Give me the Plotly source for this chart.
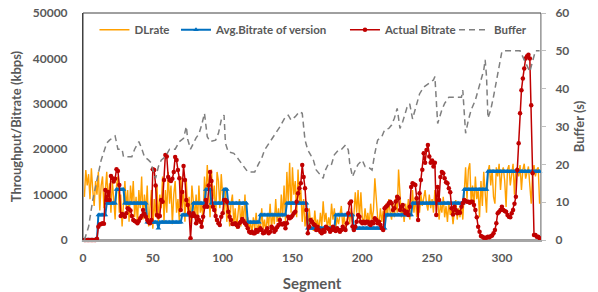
import plotly.graph_objects as go

segments = list(range(1, 328))

# DLrate (Mbps)
dlrate_mbps = [
    9.5, 15.4, 12, 14.5, 9, 15.8, 11, 7.5, 13, 10,
    15, 6.5, 12, 14, 7, 11, 15, 8, 12.5, 6,
    13, 9, 4.5, 12, 14, 6, 10, 3, 9, 13,
    7, 11, 4, 12, 8, 13, 5, 9.5, 3.5, 11,
    7, 14, 4.5, 10, 6, 12, 3, 8, 11, 2.5,
    9, 5, 12, 3.5, 10, 7, 14, 4, 11, 6,
    15, 8, 12, 3.5, 10, 13, 6, 9, 4, 14,
    7, 11, 4, 13, 6, 9.5, 3.5, 12, 8, 5,
    10, 3.5, 12, 6, 8, 4, 14, 9, 16.5, 11,
    5, 15.5, 9, 12, 4, 15, 13, 7, 14.5, 10,
    6, 11, 4, 9, 3, 8, 10, 3.5, 7, 2.5,
    6, 9, 3, 7.5, 4, 10, 2.5, 5, 2, 4,
    1.5, 5, 2.5, 6, 1.5, 3.5, 2, 7, 2.5, 4.5,
    1.5, 5.5, 3, 8, 2.5, 6, 3.5, 9, 4, 7,
    3, 10, 5, 12, 4, 15, 8, 17, 6, 16,
    10, 13, 5, 15.5, 8, 11, 4, 9, 3, 6,
    2, 7, 3.5, 5, 2, 6.5, 3, 4.5, 2, 6,
    3, 8.5, 4, 6, 2.5, 5, 3, 8, 4.5, 7,
    2.5, 5, 3.5, 6, 7.5, 3, 5.5, 2.5, 4, 6,
    3.5, 7, 4, 5.5, 10.5, 6, 11, 4.5, 10.5, 5,
    3.5, 7, 4, 6, 3, 8, 4.5, 6.5, 13.6, 8,
    5, 3.5, 7, 4, 6.5, 3, 8, 5, 9, 6,
    4.5, 8, 5, 9.5, 6, 15.5, 9, 5, 7, 4,
    8, 5.5, 9, 4.5, 7, 11, 6, 9.5, 5, 8.5,
    6, 10, 7.5, 9, 11, 8, 6.5, 10, 7, 9,
    6, 11, 7.5, 9, 4.5, 8, 6, 9.5, 5, 7.5,
    4, 8.5, 5.5, 7, 3.5, 6.5, 8.8, 4.5, 7, 5,
    8, 4.5, 10, 16, 9, 15.5, 16.9, 8, 12, 7,
    14, 9, 11, 5, 13, 7.5, 15, 10, 6, 15,
    16.5, 12, 15.5, 9.5, 8, 16, 14, 16.8, 11, 15,
    16, 13, 7.3, 15.5, 16.5, 12, 15, 16.8, 10, 15.5,
    16, 14, 16.5, 11, 15.5, 16.8, 13.5, 15, 16.2, 12,
    8, 15, 16.5, 14, 15.5, 16, 8,
]

# Avg. bitrate of the chosen version (kbps)
avg_bitrate_kbps = [
    0, 0, 0, 0, 0, 0, 0, 0, 0, 0,
    5500, 5500, 5500, 5500, 5500, 5500,
    8100, 8100, 8100, 8100, 8100, 8100, 8100,
    11100, 11100, 11100, 11100, 11100, 11100,
    8100, 8100, 8100, 8100, 8100, 8100, 8100, 8100, 8100, 8100, 8100, 8100, 8100, 8100, 8100, 8100,
    3900, 3900, 3900, 3900, 3900, 3900, 3900, 3900,
    2600,
    3900, 3900, 3900, 3900, 3900, 3900, 3900, 3900, 3900, 3900, 3900, 3900, 3900, 3900, 3900, 3900,
    5500, 5500, 5500, 5500, 5500, 5500, 5500, 5500,
    8100, 8100, 8100, 8100, 8100, 8100, 8100, 8100, 8100,
    11100, 11100, 11100, 11100,
    8100, 8100, 8100, 8100, 8100, 8100, 8100, 8100, 8100,
    11100, 11100, 11100,
    8100, 8100, 8100, 8100, 8100, 8100, 8100, 8100, 8100, 8100, 8100, 8100, 8100, 8100,
    3900, 3900, 3900, 3900, 3900, 3900, 3900, 3900, 3900,
    5500, 5500, 5500, 5500, 5500, 5500, 5500, 5500, 5500, 5500, 5500, 5500, 5500, 5500, 5500, 5500, 5500, 5500, 5500,
    8100, 8100, 8100, 8100, 8100, 8100, 8100, 8100, 8100, 8100, 8100, 8100, 8100, 8100, 8100,
    2600, 2600, 2600, 2600, 2600, 2600, 2600, 2600, 2600, 2600, 2600, 2600, 2600, 2600, 2600, 2600, 2600, 2600, 2600, 2600,
    5500, 5500, 5500, 5500, 5500, 5500, 5500, 5500, 5500, 5500, 5500, 5500, 5500,
    2600, 2600, 2600, 2600, 2600, 2600, 2600, 2600, 2600, 2600, 2600, 2600, 2600, 2600, 2600, 2600, 2600, 2600, 2600, 2600, 2600, 2600, 2600,
    5500, 5500, 5500, 5500, 5500, 5500, 5500, 5500, 5500, 5500, 5500, 5500, 5500, 5500, 5500, 5500, 5500, 5500, 5500,
    8100, 8100, 8100, 8100, 8100, 8100, 8100, 8100, 8100, 8100, 8100, 8100, 8100, 8100, 8100, 8100, 8100, 8100, 8100, 8100,
    8100, 8100, 8100, 8100, 8100, 8100, 8100, 8100, 8100, 8100, 8100, 8100, 8100, 8100, 8100, 8100, 8100,
    11100, 11100, 11100, 11100, 11100, 11100, 11100, 11100, 11100, 11100, 11100, 11100, 11100, 11100, 11100, 11100, 11100,
    15100, 15100, 15100, 15100, 15100, 15100, 15100, 15100, 15100, 15100, 15100, 15100, 15100, 15100, 15100, 15100, 15100, 15100, 15100,
    15100, 15100, 15100, 15100, 15100, 15100, 15100, 15100, 15100, 15100, 15100, 15100, 15100, 15100, 15100, 15100, 15100, 15100, 15100,
]

# Actual bitrate (Mbps)
actual_mbps = [
    0, 0, 0, 0, 0, 0, 0, 0, 0, 0.3,
    2.9, 3.4, 3.5, 3.7, 3.6, 11.0, 8.8, 10.6, 8.8, 14.1,
    13.6, 12.9, 13.5, 15.6, 15.2, 12.1, 5.3, 5.7, 5.5, 5.1,
    5.9, 7.0, 6.8, 6.5, 5.3, 4.4, 4.2, 4.0, 3.7, 4.2,
    4.8, 5.3, 6.6, 5.7, 5.1, 4.4, 3.9, 3.7, 4.4, 15.6,
    15.4, 12.0, 5.5, 5.1, 5.3, 8.8, 8.4, 13.2, 18.7, 18.4,
    13.9, 13.2, 13.0, 13.5, 15.0, 18.3, 17.6, 15.4, 13.6, 6.6,
    10.6, 16.3, 13.2, 8.8, 7.7, 6.0, 0.4, 5.3, 5.9, 5.3,
    3.7, 5.1, 4.4, 4.0, 2.9, 5.1, 7.3, 8.8, 7.3, 12.0,
    15.0, 13.0, 7.3, 6.6, 5.3, 4.4, 3.7, 3.3, 5.1, 5.9,
    8.8, 8.8, 8.4, 6.2, 5.1, 4.4, 3.5, 3.5, 3.7, 3.3,
    2.9, 3.7, 4.0, 4.6, 4.2, 3.7, 3.3, 2.6, 1.8, 1.6,
    1.8, 1.5, 1.5, 2.2, 1.8, 2.2, 2.6, 2.2, 1.5, 1.6,
    2.0, 2.6, 1.5, 1.8, 2.9, 2.6, 1.8, 2.2, 2.8, 3.3,
    4.4, 3.5, 3.4, 3.7, 2.6, 3.7, 5.1, 4.8, 5.0, 5.4,
    5.9, 6.2, 8.4, 10.3, 11.4, 12.5, 16.5, 13.9, 11.4, 6.6,
    1.5, 2.9, 4.4, 4.0, 3.5, 3.3, 2.2, 2.9, 2.2, 1.8,
    1.5, 2.2, 1.8, 2.9, 2.6, 2.4, 1.8, 2.2, 2.9, 2.2,
    2.0, 2.6, 2.2, 1.8, 2.2, 2.9, 2.4, 2.2, 3.7, 5.9,
    8.1, 8.5, 3.0, 2.2, 2.9, 4.0, 5.5, 5.1, 4.0, 3.7,
    4.0, 3.7, 4.0, 4.0, 3.5, 3.3, 4.0, 3.7, 4.8, 4.4,
    3.7, 4.0, 3.3, 2.6, 2.2, 7.0, 7.3, 7.6, 8.1, 8.4,
    8.1, 6.6, 7.0, 8.5, 9.5, 9.2, 6.6, 7.3, 7.7, 6.5,
    5.9, 6.2, 5.5, 7.3, 11.7, 12.5, 12.3, 12.1, 9.2, 4.4,
    10.3, 13.2, 15.5, 19.1, 17.0, 19.8, 20.9, 18.4, 17.0, 17.5,
    16.2, 17.0, 5.5, 11.7, 8.8, 13.9, 15.0, 14.7, 13.6, 12.7,
    12.5, 11.4, 10.5, 7.0, 5.6, 7.3, 6.6, 5.9, 6.2, 6.0,
    7.3, 8.1, 8.8, 8.6, 8.4, 8.4, 8.2, 8.4, 8.4, 7.7,
    6.6, 5.0, 2.9, 1.8, 0.9, 0.7, 0.5, 0.5, 0.5, 0.7,
    0.6, 0.8, 1.0, 1.5, 2.2, 3.7, 5.9, 6.2, 6.6, 7.3,
    6.6, 6.4, 6.2, 5.5, 5.1, 5.0, 5.9, 6.6, 8.0, 9.5,
    15.4, 21.3, 27.9, 33.0, 35.6, 37.8, 40.0, 40.5, 40.8, 40.0,
    29.7, 14.7, 1.1, 1.1, 0.7, 0.7, 0.4,
]

# Buffer level (s), read at the turning points of the dashed line
buffer_seg = [1, 4, 7, 11, 13, 17, 19, 23, 25, 28, 29, 31, 35, 37, 40, 42, 44, 47, 49, 50,
              52, 54, 56, 59, 62, 66, 69, 72, 74, 75, 77, 79, 81, 83, 85, 87, 89, 91, 95, 97,
              99, 101, 102, 104, 108, 110, 112, 116, 118, 123, 126, 128, 130, 134, 137, 141, 145, 147, 149, 152,
              155, 157, 159, 161, 163, 165, 167, 170, 172, 173, 176, 178, 180, 183, 185, 188, 190, 191, 193, 195,
              197, 200, 202, 204, 207, 209, 211, 214, 216, 219, 221, 223, 225, 227, 229, 232, 234, 236, 239, 241,
              244, 246, 248, 251, 252, 253, 254, 257, 259, 262, 266, 271, 272, 273, 274, 276, 278, 281, 283, 285,
              287, 288, 289, 290, 292, 294, 296, 298, 300, 302, 311, 313, 316, 320, 324, 327]
buffer_s = [0, 3.5, 10.6, 17.6, 21.1, 25.6, 26.4, 27.5, 24.0, 24.0, 22.0, 22.0, 22.0, 24.0, 26.0, 24.2, 22.0, 21.1, 20.3, 18.5,
            16.3, 19.4, 21.1, 22.0, 24.0, 24.0, 26.0, 26.9, 30.0, 26.6, 24.0, 25.5, 27.0, 28.0, 30.4, 33.5, 27.3, 26.0, 26.4, 28.2,
            31.7, 33.0, 25.6, 23.3, 22.9, 22.0, 21.1, 19.0, 18.0, 18.0, 20.3, 21.6, 23.8, 26.0, 27.8, 29.9, 32.6, 33.0, 31.7, 32.6,
            33.9, 33.5, 26.4, 23.8, 22.5, 21.1, 18.5, 17.2, 16.3, 18.0, 20.3, 20.0, 22.5, 23.8, 23.9, 25.1, 23.8, 20.3, 16.7, 18.5,
            20.0, 21.1, 19.4, 19.4, 18.5, 22.9, 26.4, 27.3, 29.1, 29.5, 30.4, 32.2, 34.8, 29.5, 31.3, 35.0, 36.0, 32.0, 35.9, 38.6,
            40.4, 41.0, 41.4, 42.3, 43.2, 37.9, 30.8, 34.4, 36.1, 37.7, 37.7, 37.7, 39.6, 34.4, 28.2, 31.7, 34.4, 37.0, 39.6, 42.3,
            44.9, 47.6, 43.2, 32.2, 34.4, 37.9, 41.9, 45.8, 49.8, 50.0, 50.0, 50.0, 47.6, 44.5, 50.0, 50.0]

# Tick labels
x_ticks = [0, 50, 100, 150, 200, 250, 300]
y_ticks = [0, 10000, 20000, 30000, 40000, 50000]
y2_ticks = [0, 10, 20, 30, 40, 50, 60]

FONT = "Lato"
GREY = "#595959"

fig = go.Figure()
fig.add_trace(go.Scatter(
    x=segments, y=[v * 1000 for v in dlrate_mbps], name="DLrate", mode="lines",
    line=dict(color="#FFA000", width=1.4), legend="legend", cliponaxis=False))
fig.add_trace(go.Scatter(
    x=segments, y=avg_bitrate_kbps, name="Avg.Bitrate of version", mode="lines+markers",
    line=dict(color="#0070C0", width=2), marker=dict(symbol="triangle-up", size=5, color="#0070C0"),
    legend="legend2", cliponaxis=False))
fig.add_trace(go.Scatter(
    x=segments, y=[v * 1000 for v in actual_mbps], name="Actual Bitrate", mode="lines+markers",
    line=dict(color="#C00000", width=1.5), marker=dict(symbol="circle", size=4.5, color="#C00000"),
    legend="legend3", cliponaxis=False))
fig.add_trace(go.Scatter(
    x=buffer_seg, y=buffer_s, name="Buffer", mode="lines", yaxis="y2",
    line=dict(color="#7F7F7F", width=1.5, dash="6px,4px"), legend="legend4"))

fig.add_shape(type="rect", xref="paper", yref="paper", x0=0, y0=0, x1=1, y1=1,
              line=dict(color="#404040", width=1), layer="below")

tickfont = dict(family=FONT, size=12, color=GREY, weight="bold")
titlefont = dict(family=FONT, size=13, color=GREY, weight="bold")
legfont = dict(family=FONT, size=11.5, color=GREY, weight="bold")


def leg(x):
    return dict(orientation="h", x=x, y=0.99, xanchor="left", yanchor="top",
                bgcolor="rgba(0,0,0,0)", font=legfont, itemwidth=30)


fig.update_layout(
    width=598, height=292,
    margin=dict(l=83, r=57, t=13, b=52, autoexpand=False),
    paper_bgcolor="white", plot_bgcolor="rgba(0,0,0,0)",
    showlegend=True,
    legend=leg(0.025), legend2=leg(0.203), legend3=leg(0.572), legend4=leg(0.81),
    xaxis=dict(range=[0, 328], tickvals=x_ticks, ticktext=[str(t) for t in x_ticks],
               showgrid=False, zeroline=False, showline=True, linecolor="#A6A6A6", linewidth=2,
               ticks="", tickfont=tickfont, ticklabelstandoff=6, automargin=False,
               ticklabeloverflow="allow",
               title=dict(text="Segment", font=dict(family=FONT, size=15, color=GREY, weight="bold"),
                          standoff=14)),
    yaxis=dict(range=[0, 50000], tickvals=y_ticks, ticktext=[str(t) for t in y_ticks],
               showgrid=False, zeroline=False, showline=True, linecolor="#404040", linewidth=1,
               ticks="", tickfont=tickfont, ticklabelstandoff=12, automargin=False,
               ticklabeloverflow="allow",
               title=dict(text="Throughput/Bitrate (kbps)", font=titlefont, standoff=8)),
    yaxis2=dict(range=[0, 60], tickvals=y2_ticks, ticktext=[str(t) for t in y2_ticks],
                overlaying="y", side="right", showgrid=False, zeroline=False,
                showline=True, linecolor="#BFBFBF", linewidth=1, automargin=False,
                ticks="outside", ticklen=4, tickcolor="#BFBFBF", tickfont=tickfont,
                ticklabelstandoff=7, ticklabeloverflow="allow",
                title=dict(text="Buffer (s)", font=titlefont, standoff=6)),
)

# remove the default 8px page margin so the figure sits at the window's top-left corner
fig.write_html("out.html", config={"displayModeBar": False},
               post_script="document.body.style.margin='0';")
